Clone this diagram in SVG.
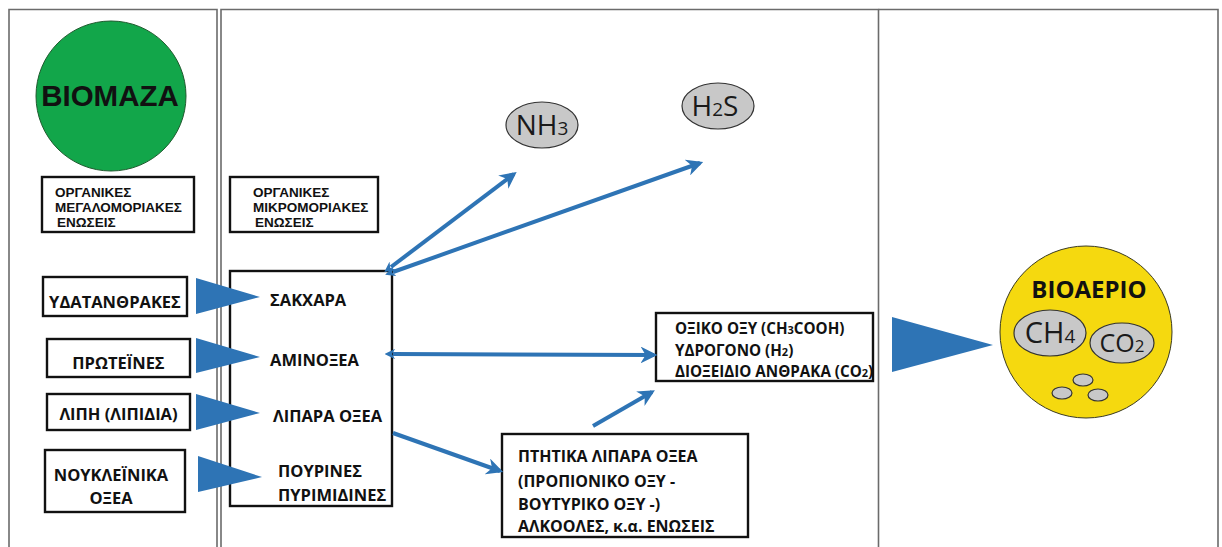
<svg xmlns="http://www.w3.org/2000/svg" width="1222" height="547" viewBox="0 0 1222 547">
  <style>
    .panel { fill: none; stroke: #6b6b6b; stroke-width: 1.6; }
    .box { fill: #ffffff; stroke: #111111; stroke-width: 2.4; }
    .lbl { font-family: "Open Sans", "Liberation Sans", sans-serif; font-weight: bold; font-size: 16.5px; fill: #111111; }
    .prod { font-size: 15.2px; }
    .vfa { font-size: 16px; }
    .sub { font-size: 11px; }
    .small { font-family: "Liberation Sans", Arial, sans-serif; font-weight: bold; font-size: 13.5px; fill: #111111; }
    .gas { fill: #c8c8c8; stroke: #333333; stroke-width: 1.2; }
    .gastxt { font-family: "Open Sans", "Liberation Sans", sans-serif; font-size: 28px; fill: #1a1a1a; }
    .gsub { font-size: 19px; }
    .tri { fill: #2e74b5; }
    .flow { fill: none; stroke: #2e74b5; stroke-width: 4; }
  </style>
  <defs>
    <marker id="head" viewBox="0 0 10 10" refX="8" refY="5" markerWidth="4.2" markerHeight="4.2" orient="auto">
      <path d="M0,0 L10,5 L0,10 L3,5 Z" fill="#2e74b5"/>
    </marker>
    <marker id="tail" viewBox="0 0 10 10" refX="2" refY="5" markerWidth="2.6" markerHeight="2.6" orient="auto-start-reverse">
      <path d="M0,0 L10,5 L0,10 L3,5 Z" fill="#2e74b5"/>
    </marker>
  </defs>

  <rect width="1222" height="547" fill="#ffffff"/>

  <!-- panel frames -->
  <g id="panels">
    <path class="panel" d="M9,560 V9.5 H217 V560"/>
    <path class="panel" d="M221,560 V9.5 H878.5 V560"/>
    <path class="panel" d="M878.5,9.5 H1218 V560"/>
  </g>

  <!-- biomass -->
  <g id="biomaza">
    <circle cx="111" cy="96" r="75" fill="#12a64a" stroke="#1f5a2e" stroke-width="1"/>
    <text x="110" y="106" text-anchor="middle" font-family="Liberation Sans, Arial, sans-serif" font-weight="bold" font-size="29.5" fill="#111111">BIOMAZA</text>
  </g>

  <g id="macro">
    <rect class="box" x="42" y="177" width="152" height="55"/>
    <text class="small" x="55" y="197">ΟΡΓΑΝΙΚΕΣ</text>
    <text class="small" x="55" y="212">ΜΕΓΑΛΟΜΟΡΙΑΚΕΣ</text>
    <text class="small" x="57" y="227">ΕΝΩΣΕΙΣ</text>
  </g>

  <g id="micro">
    <rect class="box" x="230" y="177" width="148" height="55"/>
    <text class="small" x="253" y="197">ΟΡΓΑΝΙΚΕΣ</text>
    <text class="small" x="253" y="212">ΜΙΚΡΟΜΟΡΙΑΚΕΣ</text>
    <text class="small" x="255" y="227">ΕΝΩΣΕΙΣ</text>
  </g>

  <!-- polymers -->
  <g id="ydatanthrakes">
    <rect class="box" x="43" y="277" width="144" height="39"/>
    <text class="lbl" x="115" y="308" text-anchor="middle">ΥΔΑΤΑΝΘΡΑΚΕΣ</text>
  </g>
  <g id="proteines">
    <rect class="box" x="47" y="339" width="143" height="38"/>
    <text class="lbl" x="118.5" y="369" text-anchor="middle">ΠΡΩΤΕΪΝΕΣ</text>
  </g>
  <g id="lipi">
    <rect class="box" x="47" y="394" width="143" height="36"/>
    <text class="lbl" x="118.5" y="420" text-anchor="middle">ΛΙΠΗ (ΛΙΠΙΔΙΑ)</text>
  </g>
  <g id="noukleinika">
    <rect class="box" x="45" y="450" width="140" height="62"/>
    <text class="lbl" x="111" y="481" text-anchor="middle">ΝΟΥΚΛΕΪΝΙΚΑ</text>
    <text class="lbl" x="111" y="504" text-anchor="middle">ΟΞΕΑ</text>
  </g>

  <!-- monomers -->
  <g id="monomers">
    <rect class="box" x="230" y="271" width="162" height="235"/>
    <text class="lbl" x="270" y="306">ΣΑΚΧΑΡΑ</text>
    <text class="lbl" x="270" y="366">ΑΜΙΝΟΞΕΑ</text>
    <text class="lbl" x="273" y="422">ΛΙΠΑΡΑ ΟΞΕΑ</text>
    <text class="lbl" x="278" y="477">ΠΟΥΡΙΝΕΣ</text>
    <text class="lbl" x="278" y="501">ΠΥΡΙΜΙΔΙΝΕΣ</text>
  </g>

  <!-- side gases -->
  <g id="nh3">
    <ellipse class="gas" cx="542" cy="125" rx="36" ry="23"/>
    <text class="gastxt" x="542" y="135" text-anchor="middle">NH<tspan class="gsub">3</tspan></text>
  </g>
  <g id="h2s">
    <ellipse class="gas" cx="718" cy="106" rx="36" ry="23"/>
    <text class="gastxt" x="715" y="116" text-anchor="middle">H<tspan class="gsub">2</tspan>S</text>
  </g>

  <!-- acetogenesis products -->
  <g id="oxiko">
    <rect class="box" x="656" y="313" width="217" height="68"/>
    <text class="lbl prod" x="675" y="334">ΟΞΙΚΟ ΟΞΥ (CH<tspan class="sub">3</tspan>COOH)</text>
    <text class="lbl prod" x="675" y="356">ΥΔΡΟΓΟΝΟ (H<tspan class="sub">2</tspan>)</text>
    <text class="lbl prod" x="675" y="377">ΔΙΟΞΕΙΔΙΟ ΑΝΘΡΑΚΑ (CO<tspan class="sub">2</tspan>)</text>
  </g>

  <g id="ptitika">
    <rect class="box" x="502" y="434" width="246" height="103"/>
    <text class="lbl vfa" x="518" y="462">ΠΤΗΤΙΚΑ ΛΙΠΑΡΑ ΟΞΕΑ</text>
    <text class="lbl vfa" x="518" y="487">(ΠΡΟΠΙΟΝΙΚΟ ΟΞΥ -</text>
    <text class="lbl vfa" x="518" y="510">ΒΟΥΤΥΡΙΚΟ ΟΞΥ -)</text>
    <text class="lbl vfa" x="518" y="532">ΑΛΚΟΟΛΕΣ, κ.α. ΕΝΩΣΕΙΣ</text>
  </g>

  <!-- biogas -->
  <g id="bioaerio">
    <circle cx="1086" cy="332" r="86" fill="#f5d90f" stroke="#3a3a20" stroke-width="1"/>
    <text x="1089" y="298" text-anchor="middle" font-family="Open Sans, Liberation Sans, sans-serif" font-weight="bold" font-size="24" fill="#111111">BIOAEPIO</text>
    <ellipse class="gas" cx="1050" cy="333" rx="36" ry="23"/>
    <text class="gastxt" x="1050" y="343" text-anchor="middle" style="font-size:29px">CH<tspan class="gsub">4</tspan></text>
    <ellipse class="gas" cx="1122" cy="343" rx="32" ry="20"/>
    <text class="gastxt" x="1122" y="352" text-anchor="middle" style="font-size:25px">CO<tspan class="gsub" style="font-size:17px">2</tspan></text>
    <ellipse class="gas" cx="1083" cy="380" rx="10" ry="6"/>
    <ellipse class="gas" cx="1062" cy="393" rx="10" ry="6"/>
    <ellipse class="gas" cx="1098" cy="395" rx="10" ry="6"/>
  </g>

  <!-- connectors -->
  <g id="connectors">
    <polygon class="tri" points="196,278 196,314 260,297"/>
    <polygon class="tri" points="196,338 196,373 260,357"/>
    <polygon class="tri" points="196,394 196,430 260,413"/>
    <polygon class="tri" points="198,456 198,492 262,477"/>
    <polygon class="tri" points="892,317 892,372 993,345"/>

    <line class="flow" x1="391" y1="267" x2="514" y2="174" marker-start="url(#tail)" marker-end="url(#head)"/>
    <line class="flow" x1="393" y1="272" x2="700" y2="163" marker-start="url(#tail)" marker-end="url(#head)"/>
    <line class="flow" x1="393" y1="354" x2="654" y2="355" marker-start="url(#tail)" marker-end="url(#head)"/>
    <line class="flow" x1="393" y1="433" x2="500" y2="471" marker-end="url(#head)"/>
    <line class="flow" x1="593" y1="426" x2="652" y2="392" marker-end="url(#head)"/>
  </g>
</svg>
